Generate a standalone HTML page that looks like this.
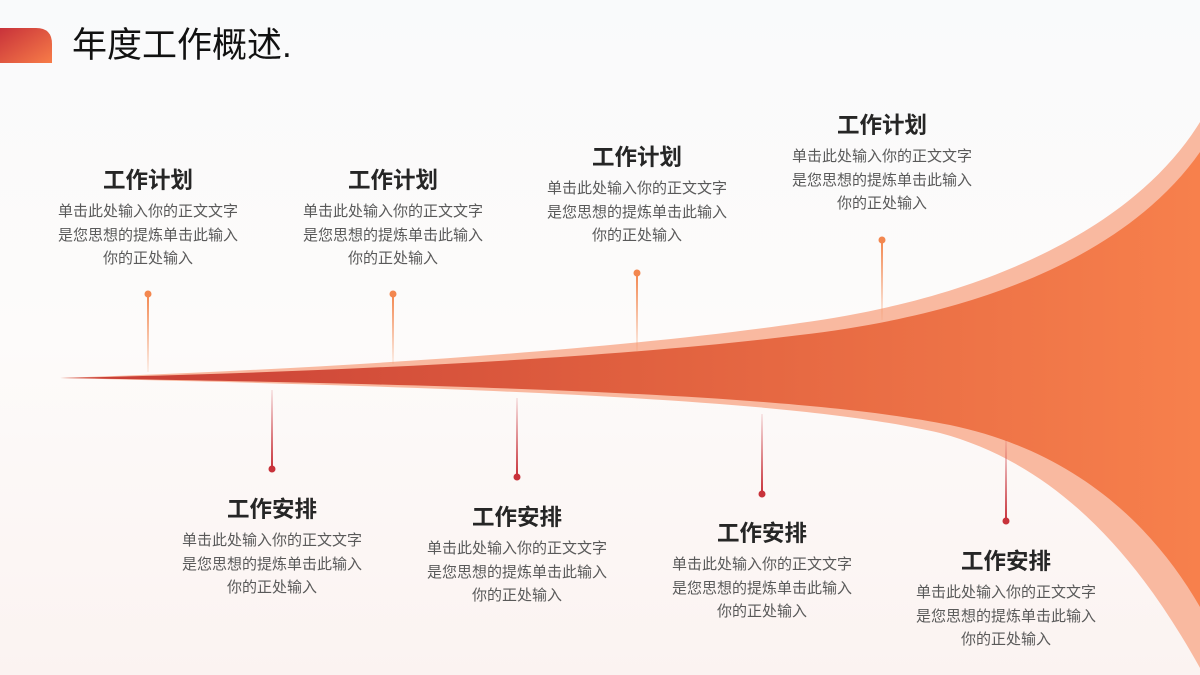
<!DOCTYPE html>
<html><head><meta charset="utf-8"><style>
body{margin:0;width:1200px;height:675px;overflow:hidden;background:linear-gradient(180deg,#f9fafb 0%,#fdfbfa 50%,#fbf3f1 100%);font-family:"Liberation Sans","Noto Sans CJK SC",sans-serif;position:relative}
.t{position:absolute;width:240px;text-align:center}
.t h3{margin:0;font-size:22.5px;font-weight:bold;color:#262626;line-height:30px}
.t p{margin:4px 0 0;font-size:15px;color:#595959;line-height:23.5px}
</style></head><body>
<svg width="1200" height="675" style="position:absolute;left:0;top:0">
<defs>
<linearGradient id="g" x1="0" y1="0" x2="1" y2="0"><stop offset="0" stop-color="#c63a35"/><stop offset="0.5" stop-color="#e0603f"/><stop offset="1" stop-color="#f7804c"/></linearGradient>
<linearGradient id="h" x1="0" y1="0" x2="1" y2="1"><stop offset="0" stop-color="#c8323a"/><stop offset="1" stop-color="#f77c48"/></linearGradient>
<linearGradient id="lu" x1="0" y1="0" x2="0" y2="1"><stop offset="0" stop-color="#f3874f"/><stop offset="1" stop-color="#f3874f" stop-opacity="0.1"/></linearGradient>
<linearGradient id="ld" x1="0" y1="0" x2="0" y2="1"><stop offset="0" stop-color="#c8323a" stop-opacity="0.1"/><stop offset="1" stop-color="#c8323a"/></linearGradient>
</defs>
<path d="M0,28 L36,28 Q52,28 52,44 L52,63 L0,63 Z" fill="url(#h)"/>
<path d="M60,378 C300,370 600,352 800,323 C1000,296 1140,220 1200,122 L1200,668 C1140,560 1060,465 940,433 C800,400 500,388 60,378 Z" fill="#f9b9a0"/>
<path d="M60,378 C300,373 600,360 800,335 C1000,312 1135,245 1200,152 L1200,607 C1150,520 1070,450 950,425 C800,395 500,385 60,378 Z" fill="url(#g)"/>
<g>
<rect x="147" y="294" width="2" height="78" fill="url(#lu)"/><circle cx="148" cy="294" r="3.5" fill="#f3874f"/>
<rect x="392" y="294" width="2" height="70" fill="url(#lu)"/><circle cx="393" cy="294" r="3.5" fill="#f3874f"/>
<rect x="636" y="273" width="2" height="79" fill="url(#lu)"/><circle cx="637" cy="273" r="3.5" fill="#f3874f"/>
<rect x="881" y="240" width="2" height="80" fill="url(#lu)"/><circle cx="882" cy="240" r="3.5" fill="#f3874f"/>
<rect x="271" y="390" width="2" height="79" fill="url(#ld)"/><circle cx="272" cy="469" r="3.5" fill="#c8323a"/>
<rect x="516" y="398" width="2" height="79" fill="url(#ld)"/><circle cx="517" cy="477" r="3.5" fill="#c8323a"/>
<rect x="761" y="414" width="2" height="80" fill="url(#ld)"/><circle cx="762" cy="494" r="3.5" fill="#c8323a"/>
<rect x="1005" y="440" width="2" height="81" fill="url(#ld)"/><circle cx="1006" cy="521" r="3.5" fill="#c8323a"/>
</g>
</svg>
<div style="position:absolute;left:72px;top:21px;font-size:35px;color:#111;line-height:50px">年度工作概述.</div>
<div class="t" style="left:28px;top:166px"><h3>工作计划</h3><p>单击此处输入你的正文文字<br>是您思想的提炼单击此输入<br>你的正处输入</p></div>
<div class="t" style="left:273px;top:166px"><h3>工作计划</h3><p>单击此处输入你的正文文字<br>是您思想的提炼单击此输入<br>你的正处输入</p></div>
<div class="t" style="left:517px;top:143px"><h3>工作计划</h3><p>单击此处输入你的正文文字<br>是您思想的提炼单击此输入<br>你的正处输入</p></div>
<div class="t" style="left:762px;top:111px"><h3>工作计划</h3><p>单击此处输入你的正文文字<br>是您思想的提炼单击此输入<br>你的正处输入</p></div>
<div class="t" style="left:152px;top:495px"><h3>工作安排</h3><p>单击此处输入你的正文文字<br>是您思想的提炼单击此输入<br>你的正处输入</p></div>
<div class="t" style="left:397px;top:503px"><h3>工作安排</h3><p>单击此处输入你的正文文字<br>是您思想的提炼单击此输入<br>你的正处输入</p></div>
<div class="t" style="left:642px;top:519px"><h3>工作安排</h3><p>单击此处输入你的正文文字<br>是您思想的提炼单击此输入<br>你的正处输入</p></div>
<div class="t" style="left:886px;top:547px"><h3>工作安排</h3><p>单击此处输入你的正文文字<br>是您思想的提炼单击此输入<br>你的正处输入</p></div>
</body></html>
